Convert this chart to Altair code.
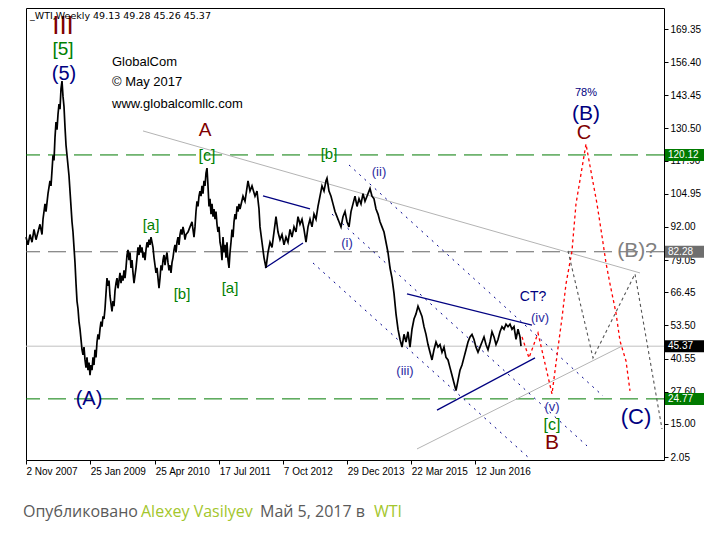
import altair as alt
import pandas as pd

START = pd.Timestamp("2007-11-02")
END_WEEK = 638

# ---- weekly WTI price (weeks since 2 Nov 2007, price) ----
price_weeks = [0,2,4,6,8,10,12,14,16,17,19,20,22,24,25,26,27,28,29,30,31,32,33,34,35,36,37,38,39,40,
               41,42,43,44,45,46,47,48,49,50,51,52,53,54,55,56,57,58,59,60,61,62,63,64,65,66,67,68,69,70,
               71,72,73,74,75,76,77,78,79,80,81,82,83,84,85,86,87,88,89,90,91,92,93,94,95,96,97,98,99,100,
               101,102,103,104,105,106,107,108,109,110,111,112,113,114,115,116,117,118,119,120,121,122,123,124,125,126,127,128,129,130,
               131,132,133,134,135,136,137,138,139,140,141,142,143,144,145,146,147,148,149,150,151,152,153,154,155,156,157,158,159,160,
               162,164,166,168,169,170,171,172,173,174,175,176,177,178,179,180,181,182,183,184,185,186,187,188,189,190,191,192,193,194,
               195,196,197,198,199,200,201,202,203,204,205,206,207,208,209,210,211,212,213,214,217,219,222,224,226,229,231,233,234,236,
               238,240,242,244,246,249,250,252,254,256,258,260,262,264,266,268,270,272,274,276,278,280,282,284,286,288,290,292,294,296,
               298,300,301,303,305,307,309,311,313,315,317,319,321,323,325,327,329,331,333,335,337,339,341,343,344,346,348,350,352,354,
               356,358,360,362,364,366,368,370,372,374,376,378,380,382,384,386,388,390,392,394,396,398,400,402,404,406,408,410,412,414,
               416,418,420,422,424,426,428,430,432,434,436,438,440,442,444,446,448,450,452,454,456,458,460,462,464,466,468,470,472,474,
               476,478,480,482,484,486,488,490,492,494,495]
price_values = [88,85,89,86,91,87,90,93,89,95,101,98,105,110,108,114,120,118,127,133,130,136,140,138,146,149,143,139,131,124,
                120,116,112,106,100,94,90,84,78,70,63,60,55,52,48,44,42,45,40,37,41,36,39,34,38,36,41,38,44,41,
                47,50,48,52,55,53,57,56,60,66,72,69,71,65,62,59,63,61,67,70,72,68,71,74,70,73,71,75,72,76,
                81,83,79,82,76,79,74,70,73,76,80,84,81,85,82,84,80,82,79,83,86,84,87,85,88,86,84,80,77,74,
                76,72,68,72,77,75,79,81,77,80,82,78,75,77,74,78,80,83,85,82,86,88,85,89,91,89,92,90,87,89,
                90,92,94,88,92,98,102,100,104,106,104,108,105,110,108,113,115,108,100,103,97,101,96,99,95,98,93,90,92,86,
                84,79,88,82,85,80,86,79,76,82,86,91,88,94,97,95,100,98,101,99,104,102,110,106,108,104,106,99,92,86,
                80,76,82,86,84,93,96,90,87,89,85,88,86,91,88,92,90,96,93,95,91,86,92,95,92,97,95,100,104,108,
                106,110,111,106,104,101,98,96,94,92,96,98,94,92,98,101,104,100,103,101,105,102,104,106,107,104,103,99,97,94,
                92,90,86,82,76,72,66,58,52,48,45,50,47,51,45,52,56,58,61,59,57,53,50,46,43,40,44,47,45,46,
                43,45,41,40,37,34,31,28,32,36,38,41,44,47,49,50,48,45,43,45,47,49,46,44,47,51,49,46,48,51,
                53,52,54,53,54,52,53,48,52,49,45.37]

# ---- horizontal levels ----
level_values = [120.12, 82.28, 45.37, 24.77]
level_colors = ["#007a00", "#666666", "#c0c0c0", "#007a00"]
level_dash = [[18, 8], [18, 8], [1, 0], [18, 8]]
box_colors = ["#007a00", "#6e6e6e", "#000000", "#007a00"]

# ---- drawn lines (id, week, price) ----
gray_trend_id = ["g1", "g1", "g2", "g2"]
gray_trend_wk = [117, 614, 391, 596]
gray_trend_v = [129.5, 74.0, 5.2, 45.4]

blue_solid_id = ["t1", "t1", "t2", "t2", "t3", "t3", "t4", "t4"]
blue_solid_wk = [237, 284, 239, 277, 381, 506, 411, 509]
blue_solid_v = [104.1, 99.0, 75.9, 85.7, 65.8, 53.6, 20.4, 40.8]

blue_dot_id = ["d1", "d1", "d2", "d2", "d3", "d3"]
blue_dot_wk = [323, 577, 306, 561, 287, 504]
blue_dot_v = [116.2, 25.9, 97.0, 6.4, 77.9, 1.3]

red_path_wk = [496, 503, 512, 526, 532, 536, 540, 546, 550, 556, 560, 564, 571, 576, 580, 584, 590, 594, 600, 604]
red_path_v = [49.0, 40.8, 50.5, 26.7, 44.7, 56.4, 69.7, 82.6, 101.0, 115.0, 124.4, 115.8, 101.0, 88.4, 77.9, 69.7, 58.3, 47.4, 39.6, 27.9]

gray_path_wk = [542, 567, 609, 636]
gray_path_v = [82.6, 40.8, 73.6, 13.0]

# ---- wave labels ----
lab_text = ["III", "[5]", "(5)", "A", "[c]", "[a]", "[b]", "[a]", "[b]", "(ii)", "(i)", "(iii)", "(iv)", "CT?",
            "(v)", "[c]", "B", "(A)", "78%", "(B)", "C", "(B)?", "(C)"]
lab_wk = [37, 37, 38, 179, 181, 125, 156, 204, 303, 353, 321, 379, 514, 507, 526, 526, 526, 63, 560, 560, 558, 611, 610]
lab_v = [170.5, 161.5, 151.8, 129.9, 119.7, 92.7, 65.8, 68.1, 120.5, 113.5, 85.7, 35.7, 56.4, 64.6,
         21.6, 14.6, 7.5, 24.7, 144.3, 136.3, 128.7, 82.6, 17.7]
lab_color = ["#800000", "#008000", "#000080", "#800000", "#008000", "#008000", "#008000", "#008000", "#008000",
             "#2a2aa0", "#2a2aa0", "#2a2aa0", "#2a2aa0", "#000080", "#2a2aa0", "#008000", "#800000", "#000080",
             "#000080", "#000080", "#800000", "#808080", "#000080"]
lab_size = [26, 19, 20, 19, 16, 15, 15, 15, 15, 13, 13, 13, 13, 14, 13, 16, 21, 20, 11, 21, 20, 21, 22]

info_text = ["GlobalCom", "© May 2017", "www.globalcomllc.com"]
info_wk = [86, 86, 86]
info_v = [156.5, 148.7, 140.0]

header_text = "_WTI,Weekly  49.13 49.28 45.26 45.37"

x_tick_dates = ["2007-11-02", "2009-01-25", "2010-04-25", "2011-07-17", "2012-10-07",
                "2013-12-29", "2015-03-22", "2016-06-12"]
y_ticks = [169.35, 156.40, 143.45, 130.50, 117.90, 104.95, 92.00, 79.05, 66.45, 53.50, 40.55, 27.60, 15.00, 2.05]

footer_parts = ["Опубликовано", "Alexey Vasilyev", "Май 5, 2017 в", "WTI"]
footer_colors = ["#5a5a5a", "#a3c62c", "#5a5a5a", "#a3c62c"]
footer_px = [-3, 115, 234, 348]


def wk2date(weeks):
    return [(START + pd.Timedelta(days=7 * w)).strftime("%Y-%m-%d") for w in weeks]


def dt(s):
    t = pd.Timestamp(s)
    return alt.DateTime(year=t.year, month=t.month, date=t.day, utc=True)


end_ts = START + pd.Timedelta(days=7 * END_WEEK)
FONT = "Liberation Sans"

X = alt.X("date:T",
          scale=alt.Scale(type="utc", domain=[dt(START), dt(end_ts)]),
          axis=alt.Axis(values=[dt(s) for s in x_tick_dates],
                        labelExpr="utcFormat(datum.value, '%-d %b %Y')",
                        labelAlign="left", labelFont=FONT, labelFontSize=10,
                        labelColor="black", tickColor="black", tickSize=4,
                        labelPadding=2, domain=False, grid=False, title=None,
                        labelOverlap=False, labelFlush=False))
Y = alt.Y("v:Q",
          scale=alt.Scale(domain=[0.88, 177.56], nice=False, zero=False),
          axis=alt.Axis(orient="right", values=y_ticks, format=".2f",
                        labelFont=FONT, labelFontSize=10, labelColor="black",
                        tickColor="black", tickSize=4, labelPadding=2,
                        domain=False, grid=False, title=None, labelOverlap=False,
                        labelFlush=False))

price_df = pd.DataFrame({"date": wk2date(price_weeks), "v": price_values})
levels_df = pd.DataFrame({"v": level_values, "i": range(4)})

layers = []
for i in range(4):
    layers.append(alt.Chart(levels_df[levels_df.i == i]).mark_rule(
        color=level_colors[i], strokeDash=level_dash[i], strokeWidth=1).encode(y=Y))

gt = pd.DataFrame({"id": gray_trend_id, "date": wk2date(gray_trend_wk), "v": gray_trend_v})
layers.append(alt.Chart(gt).mark_line(color="#b4b4b4", strokeWidth=1).encode(x=X, y=Y, detail="id:N"))

bd = pd.DataFrame({"id": blue_dot_id, "date": wk2date(blue_dot_wk), "v": blue_dot_v})
layers.append(alt.Chart(bd).mark_line(color="#00008b", strokeWidth=1, strokeDash=[2, 5], clip=True).encode(
    x=X, y=Y, detail="id:N"))

bs = pd.DataFrame({"id": blue_solid_id, "date": wk2date(blue_solid_wk), "v": blue_solid_v})
layers.append(alt.Chart(bs).mark_line(color="#000080", strokeWidth=1.3).encode(x=X, y=Y, detail="id:N"))

layers.append(alt.Chart(price_df).mark_line(color="black", strokeWidth=1.7).encode(x=X, y=Y))

rp = pd.DataFrame({"date": wk2date(red_path_wk), "v": red_path_v})
layers.append(alt.Chart(rp).mark_line(color="#ff0000", strokeWidth=1.3, strokeDash=[3, 3]).encode(x=X, y=Y))
gp = pd.DataFrame({"date": wk2date(gray_path_wk), "v": gray_path_v})
layers.append(alt.Chart(gp).mark_line(color="#555555", strokeWidth=1.1, strokeDash=[3, 3]).encode(x=X, y=Y))

labs = pd.DataFrame({"t": lab_text, "date": wk2date(lab_wk), "v": lab_v, "c": lab_color, "s": lab_size})
layers.append(alt.Chart(labs).mark_text(font=FONT, baseline="middle", align="center").encode(
    x=X, y=Y, text="t:N", color=alt.Color("c:N", scale=None),
    size=alt.Size("s:Q", scale=None)))

info = pd.DataFrame({"t": info_text, "date": wk2date(info_wk), "v": info_v})
layers.append(alt.Chart(info).mark_text(font=FONT, fontSize=13, align="left", baseline="middle",
                                        color="black").encode(x=X, y=Y, text="t:N"))

layers.append(alt.Chart(pd.DataFrame({"t": [header_text], "date": wk2date([4]), "v": [174.5]})).mark_text(
    font="DejaVu Sans", fontSize=9.5, align="left", baseline="middle", color="black").encode(
    x=X, y=Y, text="t:N"))

boxes = pd.DataFrame({"v": level_values, "c": box_colors, "t": [f"{v:.2f}" for v in level_values]})
layers.append(alt.Chart(boxes).mark_rect(yOffset=-6, y2Offset=6).encode(
    x=alt.value(639), x2=alt.value(678), y=Y, y2=alt.Y2("v:Q"), color=alt.Color("c:N", scale=None)))
layers.append(alt.Chart(boxes).mark_text(font=FONT, fontSize=10, align="left", baseline="middle",
                                         color="white").encode(x=alt.value(642), y=Y, text="t:N"))

for i in range(4):
    layers.append(alt.Chart(pd.DataFrame({"t": [footer_parts[i]]})).mark_text(
        font="Open Sans", fontSize=16, align="left", baseline="middle", color=footer_colors[i]).encode(
        x=alt.value(footer_px[i]), y=alt.value(504), text="t:N"))

chart = alt.layer(*layers).properties(
    width=638, height=452,
    autosize=alt.AutoSizeParams(type="none"),
    padding={"left": 18, "top": 0, "right": 41, "bottom": 70},
    background="white",
).configure_view(stroke="black", strokeWidth=1)

chart.save("out.html", embed_options={"renderer": "svg", "actions": False})
